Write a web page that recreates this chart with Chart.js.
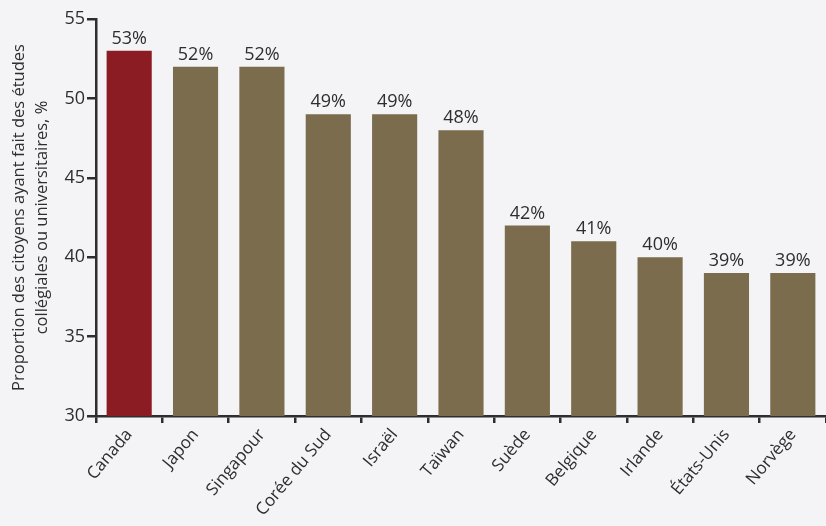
<!DOCTYPE html>
<html>
<head>
<meta charset="utf-8">
<script src="https://cdn.jsdelivr.net/npm/chart.js@4"></script>
<style>
  html, body { margin: 0; padding: 0; background: #f4f3f5; }
  #wrap { width: 826px; height: 526px; position: relative; }
</style>
</head>
<body>
<div id="wrap"><canvas id="c" width="826" height="526"></canvas></div>
<script>
const categories = ["Canada", "Japon", "Singapour", "Corée du Sud", "Israël", "Taïwan", "Suède", "Belgique", "Irlande", "États-Unis", "Norvège"];
const values = [53, 52, 52, 49, 49, 48, 42, 41, 40, 39, 39];
const barColors = ["#8b1c23", "#7a6c4d", "#7a6c4d", "#7a6c4d", "#7a6c4d", "#7a6c4d", "#7a6c4d", "#7a6c4d", "#7a6c4d", "#7a6c4d", "#7a6c4d"];
const yTicks = [30, 35, 40, 45, 50, 55];
const yTitle = ["Proportion des citoyens ayant fait des études", "collégiales ou universitaires, %"];

const FONT = "'Open Sans', 'DejaVu Sans', sans-serif";
const INK = "#2e2e2e";

const valueLabels = {
  id: "valueLabels",
  afterDatasetsDraw(chart) {
    const ctx = chart.ctx;
    const meta = chart.getDatasetMeta(0);
    ctx.save();
    ctx.font = "18px " + FONT;
    ctx.fillStyle = INK;
    ctx.textAlign = "center";
    ctx.textBaseline = "bottom";
    meta.data.forEach((bar, i) => {
      ctx.fillText(values[i] + "%", bar.x, bar.y - 3);
    });
    ctx.restore();
  }
};

new Chart(document.getElementById("c"), {
  type: "bar",
  data: {
    labels: categories,
    datasets: [{
      data: values,
      backgroundColor: barColors,
      borderWidth: 0,
      barPercentage: 0.68,
      categoryPercentage: 1.0
    }]
  },
  options: {
    responsive: false,
    animation: false,
    devicePixelRatio: 1,
    layout: { padding: { top: 19, right: 0, left: 0, bottom: 0 } },
    plugins: { legend: { display: false }, tooltip: { enabled: false } },
    scales: {
      y: {
        min: 30, max: 55,
        afterBuildTicks(scale) { scale.ticks = yTicks.map(v => ({ value: v })); },
        afterFit(scale) { scale.width = 96; },
        border: { display: true, color: INK, width: 2.5 },
        grid: { drawOnChartArea: false, drawTicks: true, tickLength: 9, color: INK, lineWidth: 2.5 },
        ticks: { color: INK, font: { family: FONT, size: 18 }, padding: 2 },
        title: { display: true, text: yTitle, color: INK, font: { family: FONT, size: 16.5, lineHeight: 1.4 }, padding: { top: 8, bottom: 2 } }
      },
      x: {
        afterFit(scale) { scale.height = 110; },
        border: { display: true, color: INK, width: 2.5 },
        grid: { drawOnChartArea: false, drawTicks: true, tickLength: 7, color: INK, lineWidth: 2.5, offset: true },
        ticks: { color: INK, font: { family: FONT, size: 17 }, maxRotation: 50, minRotation: 50, padding: 2 }
      }
    }
  },
  plugins: [valueLabels]
});
</script>
</body>
</html>
